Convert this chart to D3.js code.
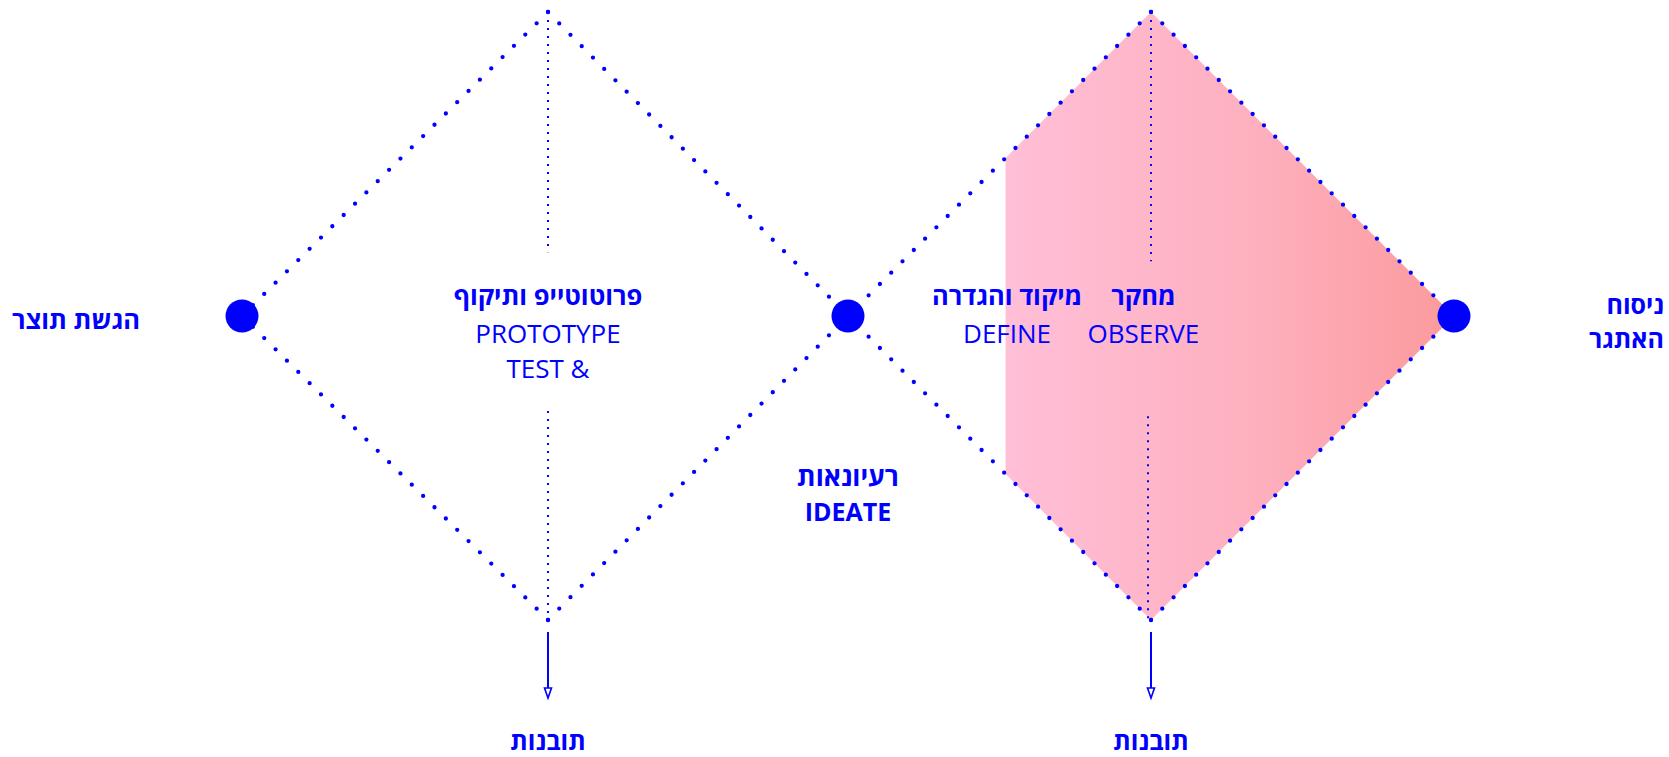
<!DOCTYPE html>
<html>
<head>
<meta charset="utf-8">
<script src="https://cdn.jsdelivr.net/npm/d3@7"></script>
<style>
  html, body { margin: 0; padding: 0; background: #fff; }
  svg { display: block; }
  text { font-family: 'Open Sans', 'Liberation Sans', 'DejaVu Sans', sans-serif; fill: #0000ff; }
  .heb { font-weight: 700; direction: rtl; }
  .lat { font-weight: 400; }
</style>
</head>
<body>
<div id="chart"></div>
<script>
// DATA
var nodes = [0, 2, 4]                 // the three big dots (process stops)
, diamonds = [1, 3]                   // diamond centres
, focusArea = [[2.52, 0.52], [3, 1], [4, 0], [3, -1], [2.52, -0.52]]   // pink region
, stageTitles = ["פרוטוטייפ ותיקוף", "מיקוד והגדרה", "מחקר"]
, stageSubs = [["PROTOTYPE", "TEST &"], ["DEFINE"], ["OBSERVE"]]
, sideLabels = ["הגשת תוצר", "ניסוח", "האתגר"]
, ideateLabels = ["רעיונאות", "IDEATE"]
, insightLabel = "תובנות";

// LAYOUT
var w = 1669
, h = 757
, blue = "#0000ff"
, x = d3.scaleLinear().domain([0, 4]).range([242, 1454])
, y = d3.scaleLinear().domain([1, -1]).range([12, 620])
, tipShift = [3, 0]                   // tips are a hair off the centre line
, svg
, grad
, g;

svg = d3.select("#chart").append("svg")
	.attr("width", w)
	.attr("height", h);

// pink gradient for the focus area
grad = svg.append("defs").append("linearGradient")
	.attr("id", "pink")
	.attr("x1", "0%").attr("x2", "100%")
	.attr("y1", "0%").attr("y2", "0%");
grad.append("stop").attr("offset", "0%").attr("stop-color", "#ffbfd7");
grad.append("stop").attr("offset", "55%").attr("stop-color", "#feb0bf");
grad.append("stop").attr("offset", "100%").attr("stop-color", "#fb9a9c");

svg.append("polygon")
	.attr("points", focusArea.map(function(p) { return x(p[0]) + "," + y(p[1]); }).join(" "))
	.attr("fill", "url(#pink)");

// dotted diamond edges, drawn outward from the top / bottom tips
g = svg.append("g");
diamonds.forEach(function(c, i) {
	[[c - 1, 0], [c + 1, 0]].forEach(function(side) {
		[1, -1].forEach(function(tip) {
			g.append("line")
				.attr("x1", x(c) + tipShift[i]).attr("y1", y(tip))
				.attr("x2", x(side[0])).attr("y2", y(side[1]))
				.attr("stroke", blue)
				.attr("stroke-width", 4.3)
				.attr("stroke-linecap", "round")
				.attr("stroke-dasharray", "0 16");
		});
	});
});

// thin vertical dotted axis inside each diamond
var axisGaps = [[0.21, -0.3125, 0], [0.18, -0.33, -3]];
diamonds.forEach(function(c, i) {
	var gap = axisGaps[i];
	[[1, gap[0], 0], [gap[1], -1, gap[2]]].forEach(function(seg) {
		g.append("line")
			.attr("x1", x(c) + tipShift[i] + seg[2]).attr("y1", y(seg[0]))
			.attr("x2", x(c) + tipShift[i] + seg[2]).attr("y2", y(seg[1]))
			.attr("stroke", blue)
			.attr("stroke-width", 2)
			.attr("stroke-dasharray", "2 6");
	});
});

// big dots
svg.selectAll("circle.node")
	.data(nodes)
	.enter()
	.append("circle")
	.attr("class", "node")
	.attr("cx", function(d) { return x(d); })
	.attr("cy", y(0))
	.attr("r", 16.5)
	.attr("fill", blue);

// arrows pointing to insights
diamonds.forEach(function(c, i) {
	var ax = x(c) + tipShift[i], top = 632, tip = 698;
	svg.append("line")
		.attr("x1", ax).attr("y1", top)
		.attr("x2", ax).attr("y2", tip - 10)
		.attr("stroke", blue)
		.attr("stroke-width", 2);
	svg.append("polygon")
		.attr("points", [[ax - 3.5, tip - 10], [ax + 3.5, tip - 10], [ax, tip]].join(" "))
		.attr("fill", "#fff")
		.attr("stroke", blue)
		.attr("stroke-width", 1.6);
	svg.append("text")
		.attr("class", "heb")
		.attr("x", ax)
		.attr("y", 750)
		.attr("text-anchor", "middle")
		.style("font-size", "25px")
		.text(insightLabel);
});

// stage titles
var titlePos = [[1, 3], [2.525, 0], [2.975, 0]];
stageTitles.forEach(function(t, i) {
	var tx = x(titlePos[i][0]) + titlePos[i][1];
	svg.append("text")
		.attr("class", "heb")
		.attr("x", tx)
		.attr("y", 305)
		.attr("text-anchor", "middle")
		.style("font-size", "25.5px")
		.text(t);
	stageSubs[i].forEach(function(s, j) {
		svg.append("text")
			.attr("class", "lat")
			.attr("x", tx)
			.attr("y", 343 + j * 35)
			.attr("text-anchor", "middle")
			.style("font-size", "26px")
			.text(s);
	});
});

// side labels
svg.append("text")
	.attr("class", "heb")
	.attr("x", 76)
	.attr("y", 329)
	.attr("text-anchor", "middle")
	.style("font-size", "25.5px")
	.text(sideLabels[0]);

sideLabels.slice(1).forEach(function(t, i) {
	svg.append("text")
		.attr("class", "heb")
		.attr("x", 1664)
		.attr("y", 314 + i * 34)
		.attr("text-anchor", "start")
		.style("font-size", "25px")
		.text(t);
});

// ideate
ideateLabels.forEach(function(t, i) {
	svg.append("text")
		.attr("class", "heb")
		.attr("x", x(2))
		.attr("y", 486 + i * 35)
		.attr("text-anchor", "middle")
		.style("direction", i ? "ltr" : "rtl")
		.style("font-size", i ? "25px" : "26.5px")
		.text(t);
});
</script>
</body>
</html>
